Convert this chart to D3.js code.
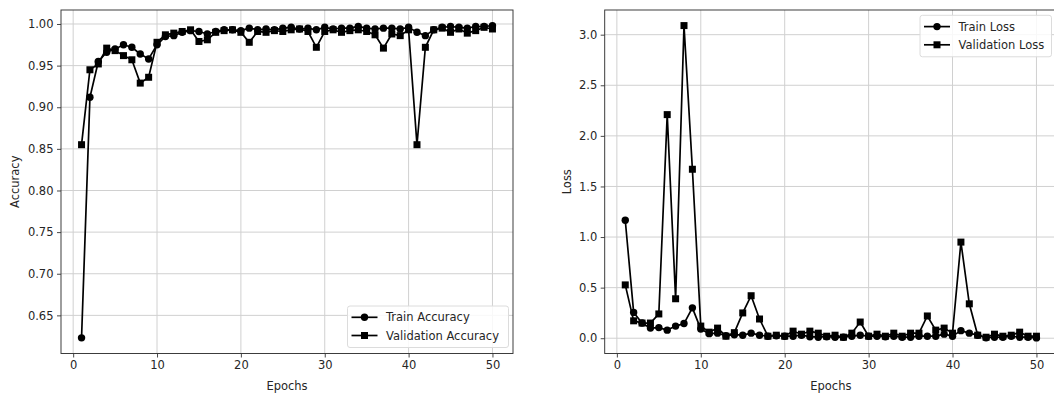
<!DOCTYPE html>
<html>
<head>
<meta charset="utf-8">
<script src="https://cdn.jsdelivr.net/npm/d3@7"></script>
<style>
  body { margin: 0; background: #fff; }
  svg { display: block; font-family: "DejaVu Sans", sans-serif; }
</style>
</head>
<body>
<div id="chart"></div>
<script>
// epochs 1..50
const epochs = d3.range(1, 51);

const trainAcc = [0.623, 0.912, 0.955, 0.966, 0.970, 0.975, 0.972, 0.964, 0.958, 0.975,
  0.985, 0.986, 0.990, 0.992, 0.991, 0.988, 0.991, 0.993, 0.993, 0.992,
  0.995, 0.993, 0.994, 0.993, 0.995, 0.996, 0.994, 0.995, 0.993, 0.996,
  0.994, 0.995, 0.995, 0.997, 0.995, 0.994, 0.995, 0.995, 0.994, 0.996,
  0.990, 0.986, 0.993, 0.996, 0.997, 0.996, 0.995, 0.997, 0.997, 0.998];

const valAcc = [0.855, 0.945, 0.952, 0.971, 0.968, 0.962, 0.957, 0.929, 0.936, 0.978,
  0.987, 0.989, 0.991, 0.993, 0.979, 0.981, 0.990, 0.992, 0.993, 0.990,
  0.978, 0.991, 0.990, 0.992, 0.991, 0.993, 0.994, 0.991, 0.972, 0.991,
  0.993, 0.990, 0.992, 0.993, 0.991, 0.987, 0.971, 0.988, 0.986, 0.993,
  0.855, 0.972, 0.993, 0.995, 0.990, 0.994, 0.989, 0.992, 0.996, 0.994];

const trainLoss = [1.166, 0.255, 0.15, 0.10, 0.105, 0.08, 0.12, 0.145, 0.30, 0.09,
  0.045, 0.05, 0.025, 0.035, 0.03, 0.05, 0.03, 0.02, 0.025, 0.02,
  0.02, 0.03, 0.015, 0.01, 0.015, 0.01, 0.01, 0.02, 0.03, 0.02,
  0.02, 0.015, 0.02, 0.01, 0.01, 0.02, 0.02, 0.02, 0.04, 0.02,
  0.075, 0.05, 0.03, 0.005, 0.01, 0.01, 0.02, 0.01, 0.01, 0.003];

const valLoss = [0.527, 0.172, 0.15, 0.15, 0.24, 2.21, 0.39, 3.09, 1.67, 0.12,
  0.06, 0.10, 0.02, 0.055, 0.25, 0.42, 0.19, 0.02, 0.03, 0.02,
  0.07, 0.04, 0.07, 0.05, 0.02, 0.03, 0.01, 0.05, 0.16, 0.02,
  0.04, 0.02, 0.05, 0.02, 0.05, 0.05, 0.22, 0.08, 0.10, 0.05,
  0.95, 0.34, 0.03, 0.01, 0.04, 0.02, 0.03, 0.06, 0.02, 0.02];

const xTicks = [0, 10, 20, 30, 40, 50];
const accTicks = [0.65, 0.70, 0.75, 0.80, 0.85, 0.90, 0.95, 1.00];
const lossTicks = [0.0, 0.5, 1.0, 1.5, 2.0, 2.5, 3.0];

const W = 1054, H = 397;
const svg = d3.select("#chart").append("svg")
  .attr("width", W).attr("height", H);

const spineColor = "#333";
const textColor = "#262626";
const fs = "11.5px";

function panel(opts) {
  const x = d3.scaleLinear().domain([-1.45, 52.45]).range([opts.left, opts.right]);
  const y = d3.scaleLinear().domain(opts.ydomain).range([opts.bottom, opts.top]);
  const g = svg.append("g");

  // grid
  g.selectAll(".gx").data(xTicks).join("line")
    .attr("x1", d => x(d)).attr("x2", d => x(d))
    .attr("y1", opts.top).attr("y2", opts.bottom)
    .attr("stroke", "#d0d0d0").attr("stroke-width", 1);
  g.selectAll(".gy").data(opts.yticks).join("line")
    .attr("x1", opts.left).attr("x2", opts.right)
    .attr("y1", d => y(d)).attr("y2", d => y(d))
    .attr("stroke", "#d0d0d0").attr("stroke-width", 1);

  // axes
  const xAxis = g.append("g")
    .attr("transform", `translate(0, ${opts.bottom})`)
    .call(d3.axisBottom(x).tickValues(xTicks).tickSize(4).tickPadding(3.5).tickFormat(d3.format("d")));
  const yAxis = g.append("g")
    .attr("transform", `translate(${opts.left}, 0)`)
    .call(d3.axisLeft(y).tickValues(opts.yticks).tickSize(4).tickPadding(3.5).tickFormat(opts.fmt));
  [xAxis, yAxis].forEach(a => {
    a.select(".domain").remove();
    a.selectAll("line").attr("stroke", spineColor).attr("stroke-width", 0.9);
    a.selectAll("text").attr("fill", textColor)
      .style("font-size", fs).style("font-family", "DejaVu Sans");
  });

  // spines
  g.append("rect")
    .attr("x", opts.left).attr("y", opts.top)
    .attr("width", opts.right - opts.left).attr("height", opts.bottom - opts.top)
    .attr("fill", "none").attr("stroke", spineColor).attr("stroke-width", 0.95);

  // labels
  g.append("text")
    .attr("x", (x(-1.45) + x(52.45)) / 2).attr("y", 389.5)
    .attr("text-anchor", "middle").attr("fill", textColor)
    .style("font-size", fs).text("Epochs");
  g.append("text")
    .attr("transform", `translate(${opts.ylabelX}, ${(opts.top + opts.bottom) / 2}) rotate(-90)`)
    .attr("text-anchor", "middle").attr("fill", textColor)
    .style("font-size", fs).text(opts.ylabel);

  // lines and markers
  const line = d3.line().x((d, i) => x(epochs[i])).y(d => y(d));
  opts.series.forEach(s => {
    g.append("path").datum(s.values)
      .attr("d", line).attr("fill", "none")
      .attr("stroke", "#000").attr("stroke-width", 1.7);
    if (s.marker === "circle") {
      g.selectAll(null).data(s.values).join("circle")
        .attr("cx", (d, i) => x(epochs[i])).attr("cy", d => y(d))
        .attr("r", 3.7).attr("fill", "#000");
    } else {
      g.selectAll(null).data(s.values).join("rect")
        .attr("x", (d, i) => x(epochs[i]) - 3.5).attr("y", d => y(d) - 3.5)
        .attr("width", 7).attr("height", 7).attr("fill", "#000");
    }
  });

  // legend
  const L = opts.legend;
  const lg = g.append("g");
  lg.append("rect")
    .attr("x", L.x).attr("y", L.y).attr("width", L.w).attr("height", L.h)
    .attr("rx", 2.5).attr("fill", "#fff").attr("fill-opacity", 0.85)
    .attr("stroke", "#dcdcdc").attr("stroke-width", 1);
  opts.series.forEach((s, i) => {
    const cy = L.y + 11.3 + i * 18.2;
    lg.append("line")
      .attr("x1", L.x + 4).attr("x2", L.x + 30)
      .attr("y1", cy).attr("y2", cy)
      .attr("stroke", "#000").attr("stroke-width", 1.7);
    if (s.marker === "circle") {
      lg.append("circle").attr("cx", L.x + 17).attr("cy", cy).attr("r", 3.7).attr("fill", "#000");
    } else {
      lg.append("rect").attr("x", L.x + 13.5).attr("y", cy - 3.5)
        .attr("width", 7).attr("height", 7).attr("fill", "#000");
    }
    lg.append("text")
      .attr("x", L.x + 38.5).attr("y", cy).attr("dy", "0.35em")
      .attr("fill", textColor).style("font-size", fs).text(s.name);
  });
}

panel({
  left: 61, right: 513, top: 10, bottom: 353.5,
  ydomain: [0.6042, 1.0168], yticks: accTicks, fmt: d3.format(".2f"),
  ylabel: "Accuracy", ylabelX: 18.5,
  series: [
    {name: "Train Accuracy", values: trainAcc, marker: "circle"},
    {name: "Validation Accuracy", values: valAcc, marker: "square"}
  ],
  legend: {x: 347.5, y: 306, w: 161, h: 41.5}
});

panel({
  left: 604.7, right: 1057, top: 10, bottom: 353.5,
  ydomain: [-0.151, 3.244], yticks: lossTicks, fmt: d3.format(".1f"),
  ylabel: "Loss", ylabelX: 571,
  series: [
    {name: "Train Loss", values: trainLoss, marker: "circle"},
    {name: "Validation Loss", values: valLoss, marker: "square"}
  ],
  legend: {x: 920, y: 15.3, w: 131.5, h: 41.5}
});
</script>
</body>
</html>
